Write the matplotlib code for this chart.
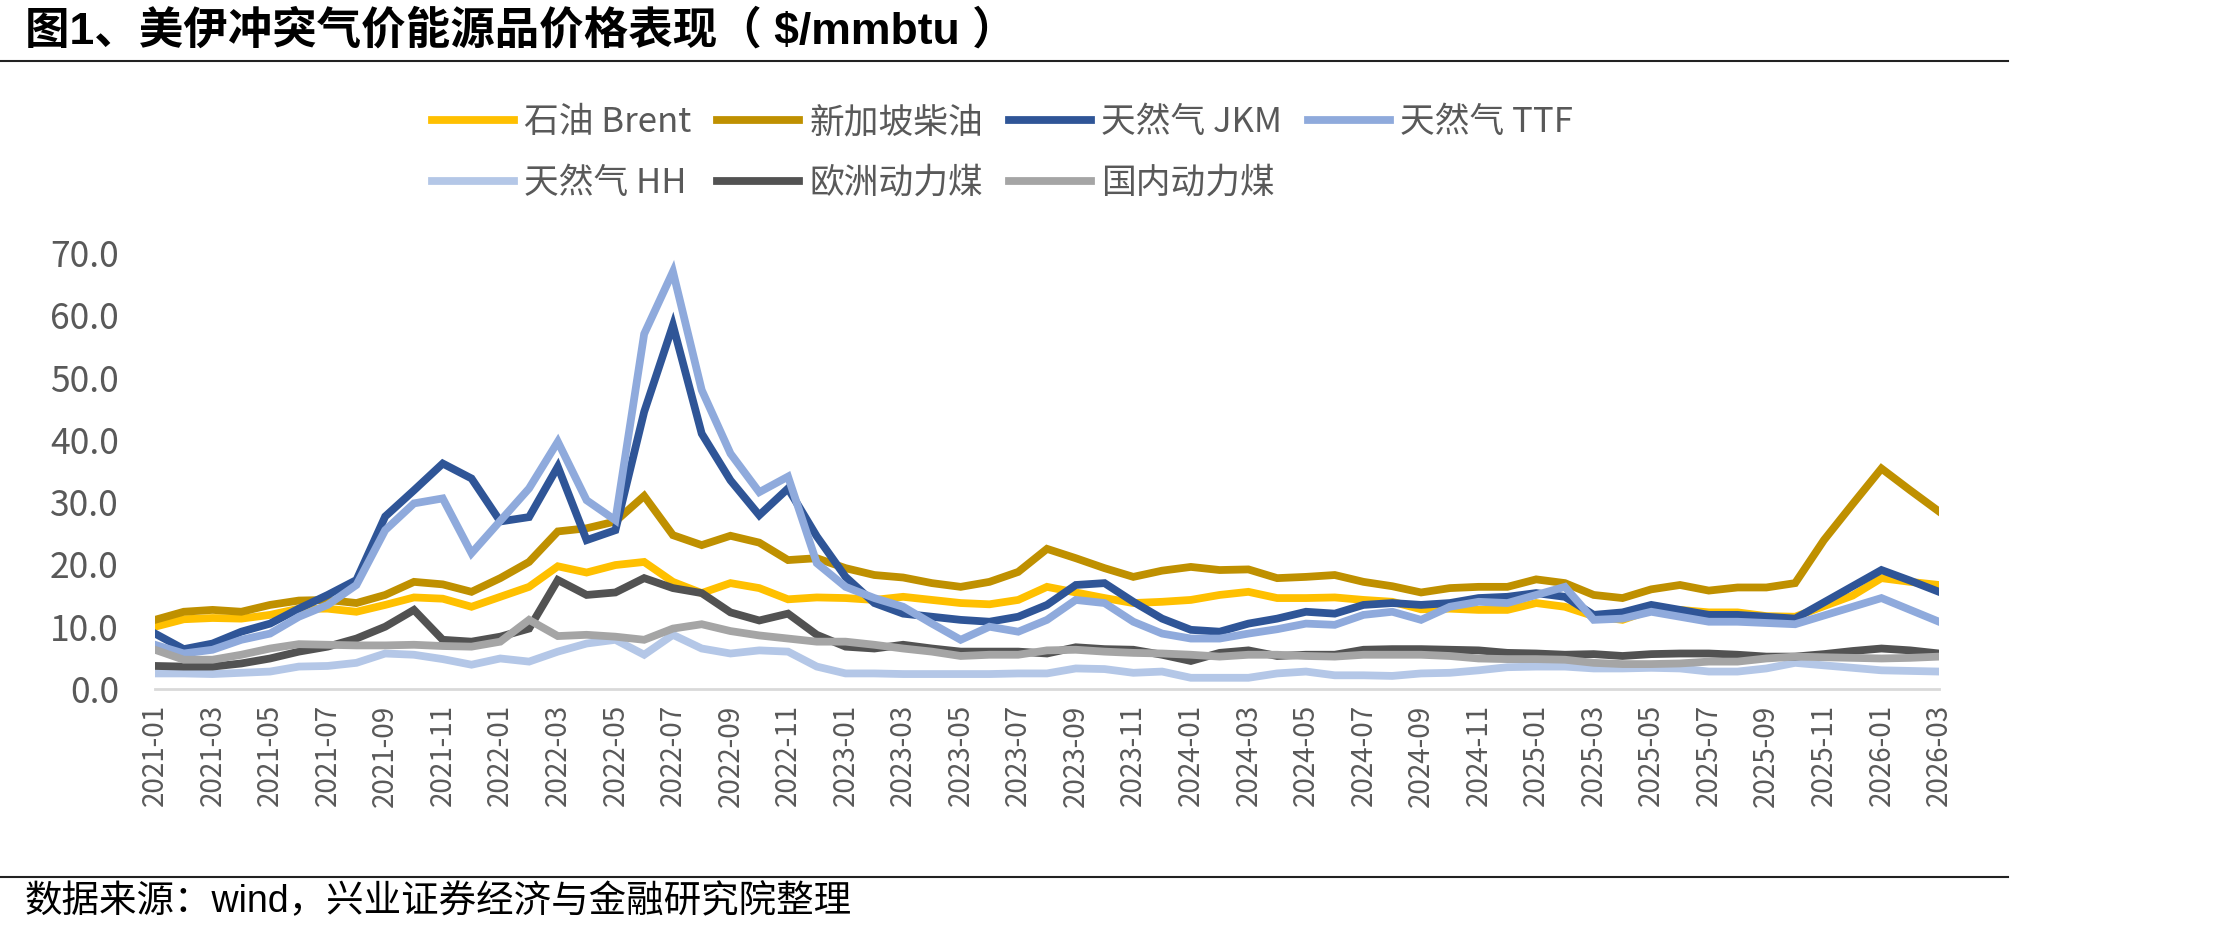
import matplotlib
matplotlib.use("agg")
import matplotlib.pyplot as plt
from matplotlib.lines import Line2D
import numpy as np
import pandas as pd

plt.rcParams["font.family"] = ["Noto Sans CJK SC", "DejaVu Sans"]

# monthly, 2021-01 .. 2026-03
months = pd.date_range("2021-01-01", "2026-03-01", freq="MS").strftime("%Y-%m").tolist()

brent = [10.0, 11.2, 11.4, 11.3, 11.9, 12.9, 12.9, 12.4, 13.5, 14.7, 14.5, 13.2,
         14.8, 16.4, 19.7, 18.7, 19.9, 20.4, 17.2, 15.4, 17.0, 16.2, 14.4, 14.7,
         14.6, 14.3, 14.8, 14.3, 13.8, 13.6, 14.3, 16.4, 15.5, 14.6, 13.8, 14.0,
         14.3, 15.1, 15.6, 14.6, 14.6, 14.7, 14.3, 14.0, 12.8, 12.9, 12.7, 12.7,
         13.8, 13.2, 11.7, 11.1, 12.7, 12.7, 12.3, 12.3, 11.7, 11.6, 13.3, 15.0,
         17.8, 17.2, 16.7]
sg_diesel = [11.1, 12.4, 12.7, 12.4, 13.5, 14.2, 14.3, 13.8, 15.1, 17.2, 16.8, 15.6,
             17.8, 20.4, 25.3, 25.8, 26.9, 31.0, 24.7, 23.1, 24.6, 23.5, 20.7, 21.0,
             19.4, 18.3, 17.9, 17.0, 16.4, 17.2, 18.8, 22.5, 21.0, 19.4, 18.0, 19.0,
             19.6, 19.1, 19.2, 17.8, 18.0, 18.3, 17.2, 16.5, 15.5, 16.2, 16.4, 16.4,
             17.6, 17.0, 15.1, 14.6, 16.0, 16.7, 15.8, 16.3, 16.3, 17.0, 23.9, 29.7,
             35.4, 31.9, 28.5]
jkm = [8.9, 6.4, 7.3, 9.2, 10.5, 12.9, 15.1, 17.5, 27.7, 31.9, 36.2, 33.8,
       26.9, 27.6, 35.7, 23.9, 25.5, 44.5, 58.4, 41.0, 33.5, 27.9, 32.2, 24.5,
       18.0, 13.8, 12.1, 11.6, 11.1, 10.8, 11.6, 13.5, 16.7, 17.0, 14.0, 11.3,
       9.5, 9.2, 10.5, 11.3, 12.4, 12.1, 13.5, 13.8, 13.5, 13.8, 14.6, 14.8,
       15.4, 14.8, 11.9, 12.3, 13.5, 12.7, 11.9, 11.9, 11.6, 11.3, 13.9, 16.5,
       19.1, 17.4, 15.6]
ttf = [7.1, 5.7, 6.3, 7.9, 8.9, 11.6, 13.5, 16.7, 25.5, 29.8, 30.6, 21.8,
       27.0, 32.2, 39.7, 30.3, 27.1, 57.0, 67.0, 48.0, 37.8, 31.6, 34.1, 20.2,
       16.4, 14.6, 13.2, 10.5, 7.9, 10.0, 9.2, 11.1, 14.3, 13.8, 10.8, 8.9,
       8.1, 8.1, 8.9, 9.6, 10.5, 10.3, 11.9, 12.4, 11.1, 13.2, 14.0, 13.8,
       15.1, 16.4, 11.1, 11.3, 12.4, 11.6, 10.8, 10.8, 10.6, 10.4, 11.8, 13.2,
       14.6, 12.7, 10.8]
hh = [2.5, 2.5, 2.4, 2.6, 2.8, 3.6, 3.7, 4.2, 5.7, 5.5, 4.8, 3.9,
      4.9, 4.4, 6.0, 7.3, 7.9, 5.5, 8.7, 6.5, 5.7, 6.2, 6.0, 3.6,
      2.5, 2.5, 2.4, 2.4, 2.4, 2.4, 2.5, 2.5, 3.3, 3.2, 2.6, 2.8,
      1.8, 1.8, 1.8, 2.5, 2.8, 2.2, 2.2, 2.1, 2.5, 2.6, 3.0, 3.5,
      3.6, 3.6, 3.3, 3.3, 3.4, 3.3, 2.8, 2.8, 3.3, 4.2, 3.8, 3.4,
      3.0, 2.9, 2.8]
eu_coal = [3.7, 3.6, 3.6, 4.1, 4.9, 6.0, 6.8, 8.1, 10.0, 12.7, 7.9, 7.6,
           8.4, 9.7, 17.5, 15.1, 15.5, 17.8, 16.2, 15.4, 12.3, 11.0, 12.1, 8.7,
           6.8, 6.5, 7.1, 6.5, 6.0, 6.0, 6.0, 5.7, 6.7, 6.4, 6.3, 5.5,
           4.5, 5.8, 6.2, 5.3, 5.5, 5.5, 6.3, 6.4, 6.4, 6.3, 6.2, 5.8,
           5.7, 5.5, 5.6, 5.3, 5.6, 5.7, 5.7, 5.5, 5.2, 5.2, 5.6, 6.1,
           6.5, 6.2, 5.7]
cn_coal = [6.3, 4.7, 4.7, 5.5, 6.5, 7.2, 7.1, 7.0, 7.0, 7.1, 6.9, 6.8,
           7.6, 11.1, 8.5, 8.7, 8.4, 7.9, 9.7, 10.4, 9.3, 8.6, 8.1, 7.6,
           7.6, 7.1, 6.5, 6.0, 5.3, 5.5, 5.5, 6.2, 6.3, 6.0, 5.8, 5.7,
           5.5, 5.2, 5.5, 5.5, 5.3, 5.2, 5.5, 5.5, 5.5, 5.3, 4.9, 4.8,
           4.8, 4.7, 4.2, 4.0, 4.0, 4.1, 4.4, 4.4, 4.9, 5.2, 5.1, 5.0,
           4.9, 5.0, 5.2]

series_names = ["石油 Brent", "新加坡柴油", "天然气 JKM", "天然气 TTF",
                "天然气 HH", "欧洲动力煤", "国内动力煤"]
series_values = [brent, sg_diesel, jkm, ttf, hh, eu_coal, cn_coal]
series_colors = ["#FFC000", "#BF9000", "#2F5597", "#8FAADC",
                 "#B4C7E7", "#525252", "#A5A5A5"]

W, H = 2221, 936
fig = plt.figure(figsize=(W / 100, H / 100), dpi=100)
ax = fig.add_axes([155 / W, 1 - 689 / H, (1939 - 155) / W, (689 - 253) / H])

x = np.arange(len(months))
handles = []
for name, vals, col in zip(series_names, series_values, series_colors):
    (ln,) = ax.plot(x, vals, color=col, lw=5.6, solid_joinstyle="miter", label=name)
    handles.append(ln)

ax.set_xlim(0, len(months) - 1)
ax.set_ylim(0, 70)
ax.set_yticks(np.arange(0, 71, 10))
ax.set_yticklabels([f"{v:.1f}" for v in range(0, 71, 10)])
ax.set_xticks(x[::2])
ax.set_xticklabels(months[::2], rotation=90)
ax.tick_params(axis="y", length=0, pad=26, labelsize=25.5, labelcolor="#595959")
ax.tick_params(axis="x", length=0, pad=11, labelsize=20, labelcolor="#595959")
for lab in ax.get_xticklabels() + ax.get_yticklabels():
    lab.set_fontweight("light")
for s in ["left", "right", "top"]:
    ax.spines[s].set_visible(False)
ax.spines["bottom"].set_color("#D9D9D9")
ax.spines["bottom"].set_linewidth(2)
ax.spines["bottom"].set_zorder(0)

# legend: 4 on the first row, 3 on the second
order = [0, 4, 1, 5, 2, 6, 3]
leg = fig.legend([handles[i] for i in order], [series_names[i] for i in order],
                 ncol=4, loc="upper left", bbox_to_anchor=(432 / W, 1 - 105 / H),
                 frameon=False, prop={"size": 25, "weight": "light"},
                 labelcolor="#595959",
                 handlelength=2.35, handletextpad=0.3, columnspacing=0.75,
                 labelspacing=0.75, borderpad=0, borderaxespad=0)

fig.text(25 / W, 1 - 31 / H, "图1、美伊冲突气价能源品价格表现（ $/mmbtu ）",
         family=["Liberation Sans", "Noto Sans CJK SC"], fontweight="bold",
         fontsize=32, va="center", ha="left", color="black")
fig.add_artist(Line2D([0, 2008 / W], [1 - 61 / H] * 2, transform=fig.transFigure,
                      color="#222222", lw=1.5))
fig.add_artist(Line2D([0, 2008 / W], [1 - 877 / H] * 2, transform=fig.transFigure,
                      color="#222222", lw=1.5))
fig.text(25 / W, 1 - 902 / H, "数据来源：wind，兴业证券经济与金融研究院整理",
         family=["Liberation Sans", "Noto Sans CJK SC"],
         fontsize=27, va="center", ha="left", color="black")

fig.savefig("out.png", dpi=100)
